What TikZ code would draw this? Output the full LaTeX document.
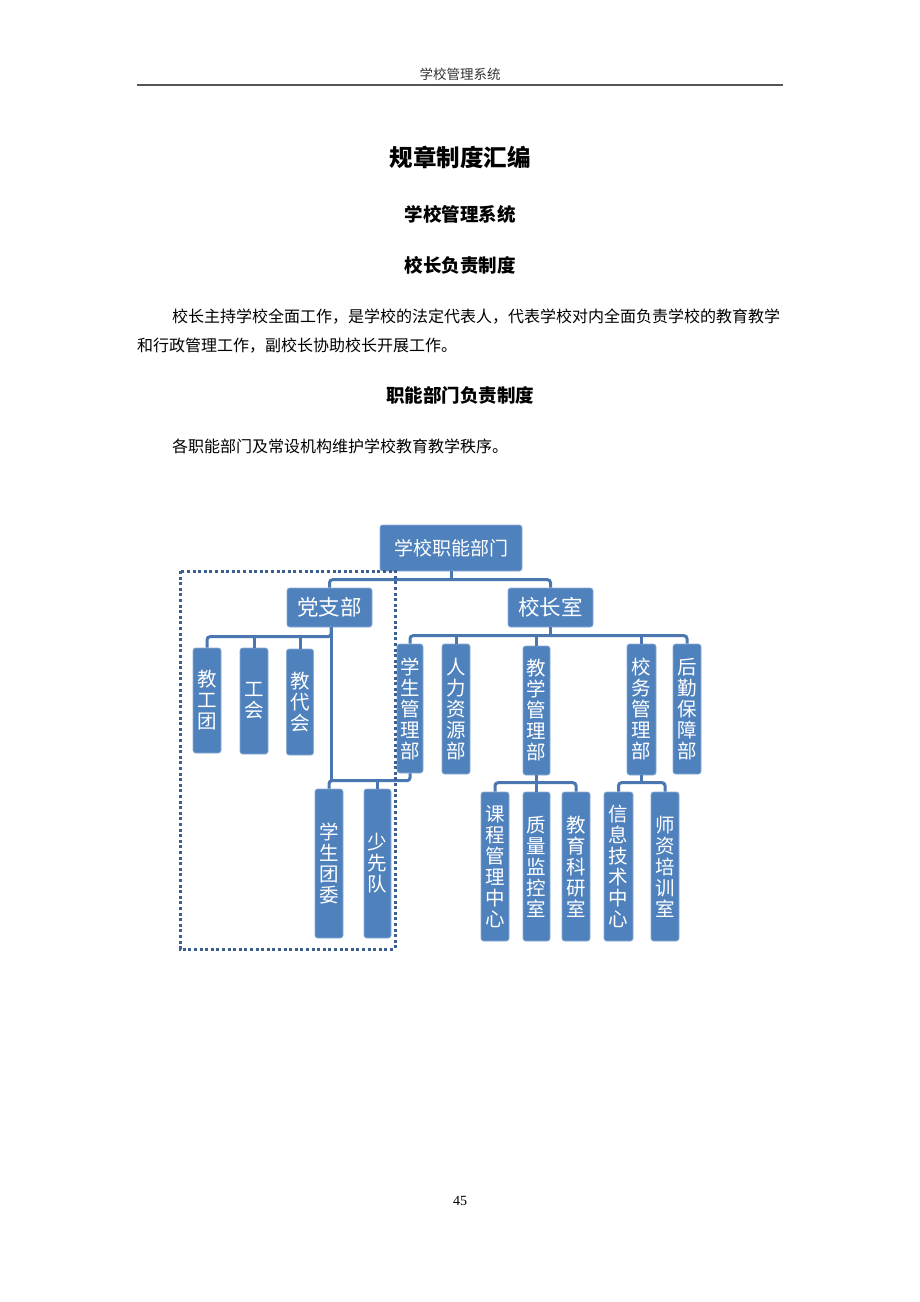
\documentclass[tikz,border=0pt]{standalone}
\usepackage{fontspec}
\setmainfont{Liberation Serif}
\newfontfamily\cjk{Noto Sans CJK SC}
\usetikzlibrary{calc}
\definecolor{boxblue}{HTML}{4F81BD}
\definecolor{lineblue}{HTML}{4A77B0}
\definecolor{dotblue}{HTML}{3D5F8E}
\definecolor{rulegray}{HTML}{555555}
\tikzset{
  orgbox/.style={rectangle, rounded corners=2.5pt, fill=boxblue, draw=boxblue!65!white, line width=0.6pt, inner sep=0pt, text=white},
  topbox/.style={orgbox, font=\cjk\fontsize{19}{21}\selectfont},
  hbox/.style={orgbox, font=\cjk\fontsize{21.5}{23}\selectfont},
  vbox/.style={orgbox, align=center, font=\cjk\fontsize{19.5}{21}\selectfont},
  conn/.style={draw=lineblue, line width=3pt, rounded corners=3pt},
  dotframe/.style={draw=dotblue, line width=3pt, dash pattern=on 3pt off 2.6pt},
  headtxt/.style={anchor=base, inner sep=0pt, font=\cjk\fontsize{13.5}{15}\selectfont, text=black!80},
  titletxt/.style={anchor=base, inner sep=0pt, font=\cjk\bfseries\fontsize{23.5}{26}\selectfont},
  sectxt/.style={anchor=base, inner sep=0pt, font=\cjk\bfseries\fontsize{18.5}{20}\selectfont},
  bodytxt/.style={anchor=base west, inner sep=0pt, font=\cjk\fontsize{16}{18}\selectfont},
}
\begin{document}
\begin{tikzpicture}[x=1pt,y=-1pt]
\fill[white] (0,0) rectangle (920,1302);
\useasboundingbox (0,0) rectangle (920,1302);

% page header
\node[headtxt] (hdr) at (460,79) {学校管理系统};
\draw[rulegray, line width=1.5pt] (137,85) -- (783,85);

% headings and text
\node[titletxt] (title) at (460,166) {规章制度汇编};
\node[sectxt] (sec1) at (460,221) {学校管理系统};
\node[sectxt] (sec2) at (460,272) {校长负责制度};
\node[bodytxt] (p1) at (172,322) {校长主持学校全面工作，是学校的法定代表人，代表学校对内全面负责学校的教育教学};
\node[bodytxt] (p2) at (137,351) {和行政管理工作，副校长协助校长开展工作。};
\node[sectxt] (sec3) at (460,402) {职能部门负责制度};
\node[bodytxt] (p3) at (172,452) {各职能部门及常设机构维护学校教育教学秩序。};

% chart nodes
\node[topbox, minimum width=142pt, minimum height=46pt] (top) at (451,548) {学校职能部门};
\node[hbox, minimum width=85pt, minimum height=39pt] (dang) at (329.5,607.5) {党支部};
\node[hbox, minimum width=85pt, minimum height=39pt] (xz) at (550.5,607.5) {校长室};

\node[vbox, minimum width=28pt, minimum height=105pt] (jgt) at (207,700.5) {教\\工\\团};
\node[vbox, minimum width=28pt, minimum height=106pt] (gh) at (254,701) {工\\会};
\node[vbox, minimum width=27pt, minimum height=106pt] (jdh) at (300,702) {教\\代\\会};

\node[vbox, minimum width=26pt, minimum height=129pt] (xsgl) at (410,708.5) {学\\生\\管\\理\\部};
\node[vbox, minimum width=28pt, minimum height=130pt] (rlzy) at (456,709) {人\\力\\资\\源\\部};
\node[vbox, minimum width=27pt, minimum height=129pt] (jxgl) at (536.5,710.5) {教\\学\\管\\理\\部};
\node[vbox, minimum width=29pt, minimum height=131pt] (xwgl) at (641.5,709.5) {校\\务\\管\\理\\部};
\node[vbox, minimum width=28pt, minimum height=130pt] (hqbz) at (687,709) {后\\勤\\保\\障\\部};

\node[vbox, minimum width=28pt, minimum height=149pt] (xstw) at (329,863.5) {学\\生\\团\\委};
\node[vbox, minimum width=27pt, minimum height=149pt] (sxd) at (377.5,863.5) {少\\先\\队};

\node[vbox, minimum width=28pt, minimum height=149pt] (kcgl) at (495,866.5) {课\\程\\管\\理\\中\\心};
\node[vbox, minimum width=27pt, minimum height=149pt] (zljk) at (536.5,866.5) {质\\量\\监\\控\\室};
\node[vbox, minimum width=28pt, minimum height=149pt] (jyky) at (576,866.5) {教\\育\\科\\研\\室};
\node[vbox, minimum width=29pt, minimum height=149pt] (xxjs) at (618.5,866.5) {信\\息\\技\\术\\中\\心};
\node[vbox, minimum width=28pt, minimum height=149pt] (szpx) at (665,866.5) {师\\资\\培\\训\\室};

% connectors: top level
\draw[conn] (top.south) -- ++(0,9);
\draw[conn] (dang.north) -- ++(0,-8) -| (xz.north);

% 党支部 children
\draw[conn] (jgt.north) -- ++(0,-11) -| ([xshift=1.5pt]dang.south);
\draw[conn] (gh.north) -- ++(0,-11);
\draw[conn] (jdh.north) -- ++(0,-12);
\draw[conn] ([xshift=1.5pt]dang.south) -- ++(0,154);

% 校长室 children
\draw[conn] (xz.south) -- ++(0,9);
\draw[conn] (xsgl.north) -- ++(0,-8) -| (hqbz.north);
\draw[conn] (rlzy.north) -- ++(0,-8);
\draw[conn] (jxgl.north) -- ++(0,-10);
\draw[conn] (xwgl.north) -- ++(0,-8);

% 学生团委 / 少先队
\draw[conn] (xstw.north) -- ++(0,-8) -| (xsgl.south);
\draw[conn] (sxd.north) -- ++(0,-8);

% 教学管理部 children
\draw[conn] (jxgl.south) -- ++(0,8);
\draw[conn] (kcgl.north) -- ++(0,-9) -| (jyky.north);
\draw[conn] (zljk.north) -- ++(0,-9);

% 校务管理部 children
\draw[conn] (xwgl.south) -- ++(0,8);
\draw[conn] (xxjs.north) -- ++(0,-9) -| (szpx.north);

% dotted frame
\draw[dotframe] (180,571) rectangle (395,949);

% page number
\node[anchor=base, inner sep=0pt, font=\fontsize{14}{16}\selectfont] (pg) at (460,1205) {45};
\end{tikzpicture}
\end{document}
